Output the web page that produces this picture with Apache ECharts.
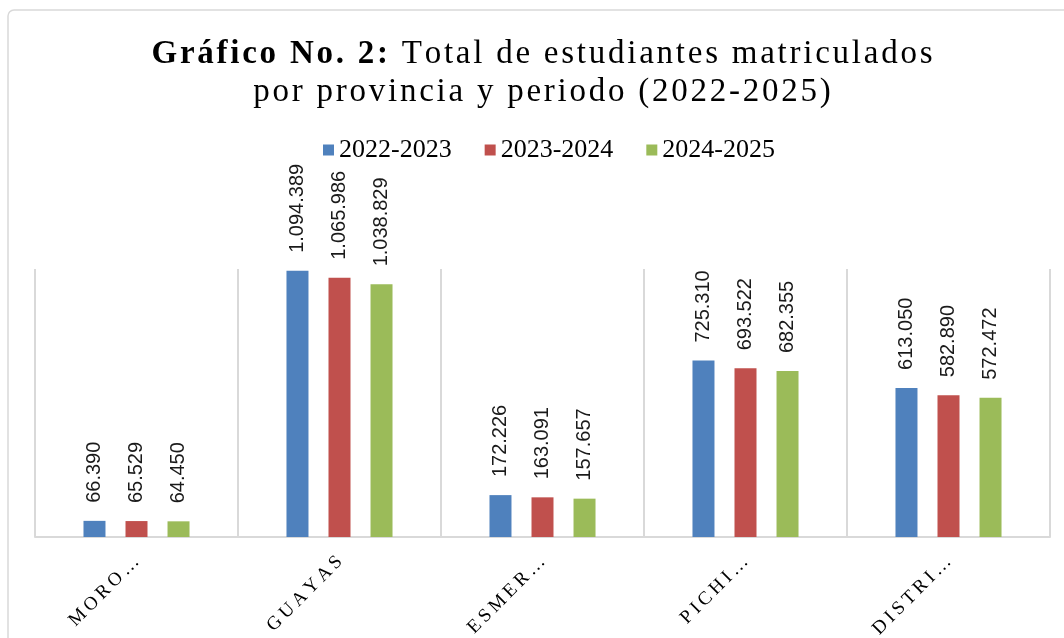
<!DOCTYPE html>
<html>
<head>
    <meta charset="utf-8">
    <title>ECharts</title>
    <script src="https://cdn.jsdelivr.net/npm/echarts@6/dist/echarts.min.js"></script>
</head>
<body style='background-color: #fff;margin:0px;'>
    <div id="main" style="width: 1064px;height:638px;"></div>
    <script type="text/javascript">
        // data
        var provincias = ['MORO…', 'GUAYAS', 'ESMER…', 'PICHI…', 'DISTRI…'];
        var periodos = ['2022-2023', '2023-2024', '2024-2025'];
        var v2022 = [66390, 1094389, 172226, 725310, 613050];
        var v2023 = [65529, 1065986, 163091, 693522, 582890];
        var v2024 = [64450, 1038829, 157657, 682355, 572472];
        var colores = ['#4f81bd', '#c0504d', '#9bbb59'];

        var HAIR = '\u200A';
        var THIN = '\u2009';

        // fake letter spacing: put a narrow space between every character
        function spaced(s, sp) {
            return s.split('').join(sp);
        }

        // 1.094.389 style (dot as thousands separator)
        function puntos(n) {
            return String(n).replace(/\B(?=(\d{3})+(?!\d))/g, '.');
        }

        var titulo = '{b|' + spaced('Gráfico No. 2:', HAIR) + '}' + HAIR +
            spaced(' Total de estudiantes matriculados', HAIR) + '\n' +
            spaced('por provincia y periodo (2022-2025)', HAIR);

        function serie(nombre, datos, color) {
            return {
                name: nombre,
                type: 'bar',
                data: datos,
                barWidth: 22,
                barGap: '91%',
                itemStyle: { color: color },
                label: {
                    show: true,
                    position: 'top',
                    rotate: 90,
                    align: 'left',
                    verticalAlign: 'middle',
                    distance: 18,
                    fontFamily: 'Liberation Sans',
                    fontSize: 20,
                    color: '#1a1a1a',
                    formatter: function (p) { return puntos(p.value); }
                }
            };
        }

        var myChart = echarts.init(document.getElementById('main'));
        var option = {
            animation: false,
            backgroundColor: '#fff',
            title: {
                text: titulo,
                left: 537,
                top: 30,
                textAlign: 'center',
                textStyle: {
                    fontFamily: 'Liberation Serif',
                    fontSize: 33,
                    fontWeight: 'normal',
                    color: '#000',
                    lineHeight: 38,
                    rich: {
                        b: {
                            fontFamily: 'Liberation Serif',
                            fontSize: 33,
                            fontWeight: 'bold',
                            color: '#000',
                            lineHeight: 38
                        }
                    }
                }
            },
            legend: {
                data: periodos,
                left: 318,
                top: 132,
                icon: 'rect',
                itemWidth: 11,
                itemHeight: 11,
                itemGap: 33,
                textStyle: {
                    fontFamily: 'Liberation Serif',
                    fontSize: 26,
                    color: '#000'
                }
            },
            grid: {
                left: 35,
                right: 14,
                top: 269,
                bottom: 101,
                outerBoundsMode: 'none',
                containLabel: false
            },
            xAxis: {
                type: 'category',
                data: provincias,
                axisLine: { lineStyle: { color: '#d9d9d9', width: 2 } },
                axisTick: { show: false },
                splitLine: { show: true, lineStyle: { color: '#d9d9d9', width: 2 } },
                axisLabel: {
                    rotate: 45,
                    margin: 22,
                    interval: 0,
                    fontFamily: 'Liberation Serif',
                    fontSize: 19,
                    color: '#000',
                    formatter: function (v) { return spaced(v, THIN); }
                }
            },
            yAxis: {
                type: 'value',
                min: 0,
                max: 1102000,
                show: false,
                splitLine: { show: false }
            },
            graphic: [{
                type: 'rect',
                shape: { x: 8, y: 10, width: 1070, height: 640, r: 6 },
                style: { fill: 'none', stroke: '#d9d9d9', lineWidth: 1.5 },
                silent: true
            }],
            series: [
                serie(periodos[0], v2022, colores[0]),
                serie(periodos[1], v2023, colores[1]),
                serie(periodos[2], v2024, colores[2])
            ]
        };
        myChart.setOption(option);
    </script>
</body>
</html>
